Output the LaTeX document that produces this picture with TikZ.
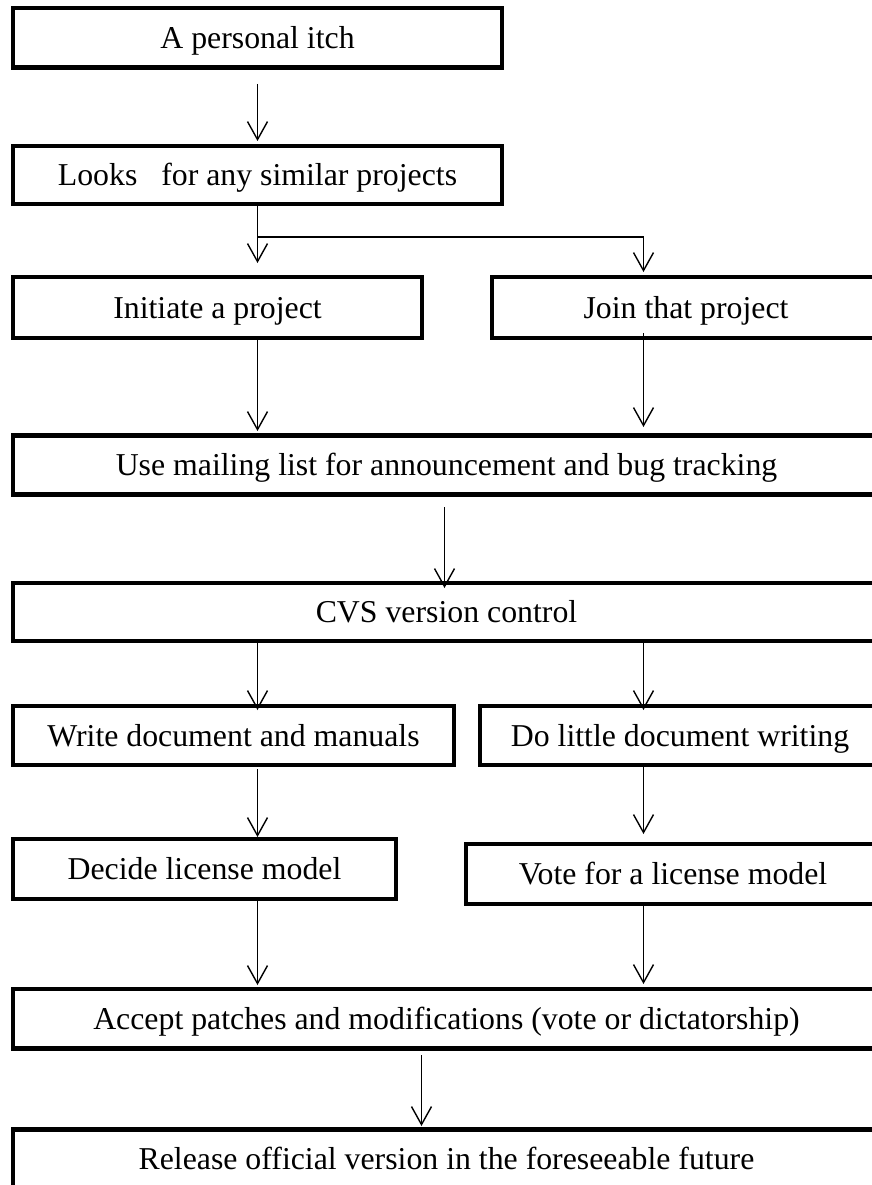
\documentclass[tikz,border=0pt]{standalone}
\usepackage{fontspec}
\setmainfont{Liberation Serif}
\usetikzlibrary{arrows.meta}
\begin{document}
\begin{tikzpicture}[x=1pt,y=-1pt,
  box/.style={draw, rectangle, line width=4.5pt, inner sep=0pt, outer sep=0pt,
    text height=27pt, text depth=6pt,
    font=\fontsize{31.8}{38}\selectfont},
  arr/.style={line width=1.4pt, -{Straight Barb[length=18pt,width=20pt,line width=1.4pt]}},
  link/.style={line width=1.4pt}]
\useasboundingbox (0,0) rectangle (872,1185);
\clip (0,0) rectangle (872,1185);

% process steps
\node[box, minimum width=489pt, minimum height=59.5pt] (b1)  at (257.5,37.75)  {A personal itch};
\node[box, minimum width=489pt, minimum height=58pt]   (b2)  at (257.5,175)    {Looks\ \ \ for any similar projects};
\node[box, minimum width=409pt, minimum height=61pt]   (b3)  at (217.5,307.5)  {Initiate a project};
\node[box, minimum width=388pt, minimum height=61pt]   (b4)  at (686,307.5)    {Join that project};
\node[box, minimum width=867pt, minimum height=59pt]   (b5)  at (446.5,465)    {Use mailing list for announcement and bug tracking};
\node[box, minimum width=867pt, minimum height=58pt]   (b6)  at (446.5,612)    {CVS version control};
\node[box, minimum width=441pt, minimum height=59pt]   (b7)  at (233.5,735.5)  {Write document and manuals};
\node[box, minimum width=400pt, minimum height=59pt]   (b8)  at (680,735.5)    {Do little document writing};
\node[box, minimum width=383pt, minimum height=60pt]   (b9)  at (204.5,869)    {Decide license model};
\node[box, minimum width=414pt, minimum height=60pt]   (b10) at (673,874)      {Vote for a license model};
\node[box, minimum width=867pt, minimum height=59.5pt] (b11) at (446.5,1018.75){Accept patches and modifications (vote or dictatorship)};
\node[box, minimum width=867pt, minimum height=59.5pt] (b12) at (446.5,1159.25){Release official version in the foreseeable future};

% connector columns
\coordinate (cL) at (257.5,0);
\coordinate (cR) at (643.5,0);
\coordinate (cM) at (444.5,0);
\coordinate (cB) at (421.5,0);
\coordinate (fork) at (257.5,237);

\draw[arr, shorten <=16.5pt, shorten >=5pt] (b1.south -| cL) -- (b2.north -| cL);
\draw[arr, shorten >=14pt] (b2.south -| cL) -- (b3.north -| cL);
\draw[arr, shorten >=5pt] (fork) -| (b4.north -| cR);
\draw[arr, shorten >=4.5pt] (b3.south -| cL) -- (b5.north -| cL);
\draw[arr, shorten <=-5pt, shorten >=8.5pt] (b4.south -| cR) -- (b5.north -| cR);
\draw[arr, shorten <=12.5pt, shorten >=-5pt] (b5.south -| cM) -- (b6.north -| cM);
\draw[arr, shorten >=-4pt] (b6.south -| cL) -- (b7.north -| cL);
\draw[arr, shorten >=-4pt] (b6.south -| cR) -- (b8.north -| cR);
\draw[arr, shorten <=4pt, shorten >=2pt] (b7.south -| cL) -- (b9.north -| cL);
\draw[arr, shorten <=2pt, shorten >=10pt] (b8.south -| cR) -- (b10.north -| cR);
\draw[arr, shorten >=4pt] (b9.south -| cL) -- (b11.north -| cL);
\draw[arr, shorten >=5pt] (b10.south -| cR) -- (b11.north -| cR);
\draw[arr, shorten <=6.5pt, shorten >=3.5pt] (b11.south -| cB) -- (b12.north -| cB);
\end{tikzpicture}
\end{document}
